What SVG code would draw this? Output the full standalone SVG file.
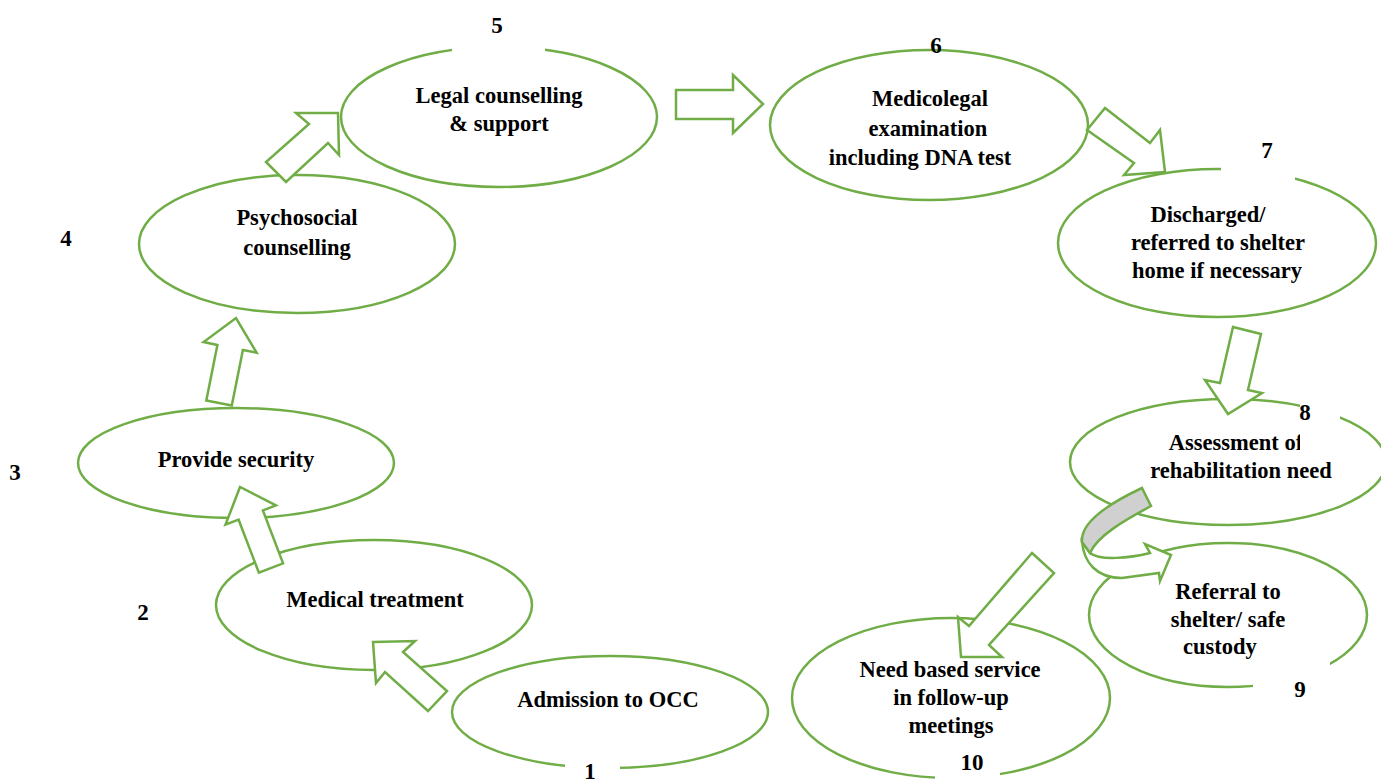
<svg xmlns="http://www.w3.org/2000/svg" width="1381" height="782" viewBox="0 0 1381 782">
<style>
.n{fill:#fff;stroke:#70ad47;stroke-width:2.5}
.t{font-family:"Liberation Serif","Times New Roman",serif;font-weight:bold;font-size:22.5px;fill:#000;text-anchor:middle}
.num{font-family:"Liberation Serif","Times New Roman",serif;font-weight:bold;font-size:23px;fill:#000;text-anchor:middle}
.bg{fill:#fff;stroke:none}
.a{fill:#fff;stroke:#70ad47;stroke-width:2.5;stroke-linejoin:miter}
.g{fill:#d0d0d0;stroke:#70ad47;stroke-width:2.5}
</style>
<rect width="1381" height="782" fill="#fff"/>
<g id="node1">
<ellipse class="n" cx="610" cy="712" rx="158" ry="56"/>
<text class="t" x="608" y="707">Admission to OCC</text>
<rect class="bg" x="565" y="752" width="55" height="30"/>
<text class="num" x="590" y="779">1</text>
</g>
<g id="node2">
<ellipse class="n" cx="374" cy="605" rx="158" ry="65"/>
<text class="t" x="375" y="607">Medical treatment</text>
<text class="num" x="143" y="620">2</text>
</g>
<g id="node3">
<ellipse class="n" cx="236" cy="463" rx="158" ry="55"/>
<text class="t" x="236" y="467">Provide security</text>
<text class="num" x="15" y="480">3</text>
</g>
<g id="node4">
<ellipse class="n" cx="297" cy="244" rx="158" ry="69"/>
<text class="t" x="297" y="225">Psychosocial</text>
<text class="t" x="297" y="255">counselling</text>
<text class="num" x="66" y="246">4</text>
</g>
<g id="node5">
<ellipse class="n" cx="499" cy="117" rx="158" ry="70"/>
<text class="t" x="499" y="103">Legal counselling</text>
<text class="t" x="499" y="131">&amp; support</text>
<rect class="bg" x="452" y="0" width="93" height="51"/>
<text class="num" x="497" y="33">5</text>
</g>
<g id="node6">
<ellipse class="n" cx="929" cy="125" rx="159" ry="75"/>
<text class="t" x="930" y="106">Medicolegal</text>
<text class="t" x="928" y="136">examination</text>
<text class="t" x="920" y="165">including DNA test</text>
<text class="num" x="936" y="53">6</text>
</g>
<g id="node7">
<ellipse class="n" cx="1217" cy="243" rx="159" ry="74"/>
<text class="t" x="1208" y="222">Discharged/</text>
<text class="t" x="1218" y="250">referred to shelter</text>
<text class="t" x="1217" y="278">home if necessary</text>
<rect class="bg" x="1221" y="128" width="74" height="57"/>
<text class="num" x="1267" y="158">7</text>
</g>
<g id="node8">
<ellipse class="n" cx="1228" cy="462" rx="158" ry="63"/>
<text class="t" x="1236" y="450">Assessment of</text>
<text class="t" x="1241" y="478">rehabilitation need</text>
<rect class="bg" x="1300" y="394" width="40" height="57"/>
<text class="num" x="1305" y="420">8</text>
</g>
<g id="node9">
<ellipse class="n" cx="1228" cy="615" rx="139" ry="72"/>
<text class="t" x="1228" y="599">Referral to</text>
<text class="t" x="1228" y="627">shelter/ safe</text>
<text class="t" x="1220" y="654">custody</text>
<rect class="bg" x="1253" y="661" width="77" height="44"/>
<text class="num" x="1300" y="697">9</text>
</g>
<g id="node10">
<ellipse class="n" cx="951" cy="698" rx="159" ry="80"/>
<text class="t" x="950" y="677">Need based service</text>
<text class="t" x="951" y="705">in follow-up</text>
<text class="t" x="951" y="733">meetings</text>
<rect class="bg" x="935" y="741" width="65" height="41"/>
<text class="num" x="972" y="770">10</text>
</g>
<g id="connectors">
<polygon class="a" points="373,642 415,641 403,652 447,691 428,711 385,672 376,683"/>
<polygon class="a" points="283.1,563.4 262.9,510.4 275.9,505.4 240,487 225.5,524.7 238.6,519.7 258.9,572.7"/>
<polygon class="a" points="231.8,405.6 242.9,350 256.6,352.7 236,318 203.6,342.1 217.4,344.9 206.3,400.5"/>
<polygon class="a" points="338,113 296,113 309,124 266,162 286,182 328,143 339,155"/>
<polygon class="a" points="676,90 733,90 733,75 763,104 733,133 733,119 676,119"/>
<polygon class="a" points="1165,172 1160,130 1150,143 1105,108 1087,130 1134,163 1124,175"/>
<polygon class="a" points="1233,327 1261,334 1248,390 1262,393 1228,414 1205,380 1220,383"/>
<polygon class="a" points="1032,553 1054,573 989,645 1002,657 961,657 958,617 969,626"/>
<path class="a" d="M1082,542 C1084,562 1096,578 1122,578 L1159,573 L1160,581 L1171,555 L1145,544 L1150,553 C1130,558 1100,561 1090,553 Z"/>
<path class="g" d="M1142,488 L1151,506 C1125,520 1097,536 1090,553 L1082,542 C1080,522 1110,503 1142,488 Z"/>
</g>
</svg>
